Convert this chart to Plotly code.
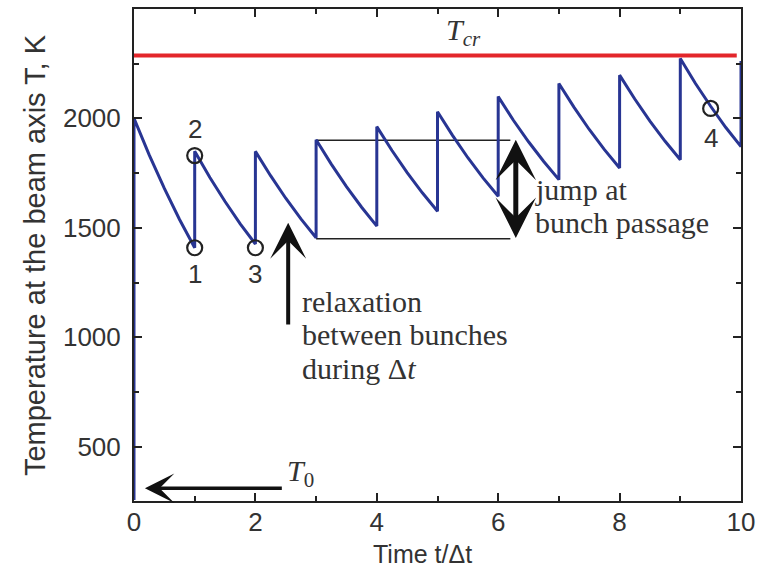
import plotly.graph_objects as go

# ---------------- data ----------------
bunch_times = [0, 1, 2, 3, 4, 5, 6, 7, 8, 9]
T_start = 258                      # temperature before first bunch (bottom of axis)
peaks = [2000, 1850, 1849, 1902, 1962, 2030, 2099, 2159, 2197, 2273]
q1_vals = [1833, 1730, 1738, 1791, 1853, 1921, 1991, 2050, 2088, 2159]
mid_vals = [1680, 1620, 1635, 1688, 1752, 1820, 1893, 1949, 1987, 2055]
q3_vals = [1538, 1518, 1541, 1594, 1660, 1728, 1803, 1857, 1895, 1958]
ends = [1409, 1426, 1455, 1508, 1576, 1644, 1720, 1773, 1811, 1871]
final_jump = 2262

T_cr = 2287
T_0 = 311

circle_t = [1, 1, 2, 9.5]
circle_T = [1409, 1830, 1409, 2045]
circle_labels = ["1", "2", "3", "4"]
label_T = [1290, 1949, 1290, 1912]

bracket_t = [3, 6.2]
bracket_upper = 1900
bracket_lower = 1450

xtick_vals = [0, 2, 4, 6, 8, 10]
ytick_vals = [500, 1000, 1500, 2000]

# ---------------- build curve from the arrays ----------------
xs = [bunch_times[0]]
ys = [T_start]
for i, t0 in enumerate(bunch_times):
    xs += [t0, t0 + 0.25, t0 + 0.5, t0 + 0.75, t0 + 1]
    ys += [peaks[i], q1_vals[i], mid_vals[i], q3_vals[i], ends[i]]
xs.append(bunch_times[-1] + 1)
ys.append(final_jump)

BLUE = "#283593"
RED = "#e3262b"
INK = "#222222"
TXT = "#333333"
SANS = "Liberation Sans, Arial, sans-serif"
SERIF = "Liberation Serif, Times New Roman, serif"

fig = go.Figure()

fig.add_trace(go.Scatter(x=[0, 9.93], y=[T_cr, T_cr], mode="lines",
                         line=dict(color=RED, width=4), showlegend=False,
                         cliponaxis=False))
fig.add_trace(go.Scatter(x=bracket_t, y=[bracket_upper] * 2, mode="lines",
                         line=dict(color=INK, width=1.4), showlegend=False))
fig.add_trace(go.Scatter(x=bracket_t, y=[bracket_lower] * 2, mode="lines",
                         line=dict(color=INK, width=1.4), showlegend=False))
fig.add_trace(go.Scatter(x=xs, y=ys, mode="lines",
                         line=dict(color=BLUE, width=3), showlegend=False,
                         cliponaxis=False))
fig.add_trace(go.Scatter(x=circle_t, y=circle_T, mode="markers",
                         marker=dict(symbol="circle-open", size=15,
                                     line=dict(color=INK, width=2.2), color=INK),
                         showlegend=False))

ann = []
for t, T, lab in zip(circle_t, label_T, circle_labels):
    ann.append(dict(x=t, y=T, text=lab, showarrow=False,
                    font=dict(family=SANS, size=26, color=TXT)))

# arrows
ann.append(dict(x=2.54, y=1523, ax=2.54, ay=1052, xref="x", yref="y",
                axref="x", ayref="y", text="", showarrow=True,
                arrowhead=3, arrowsize=1.5, arrowwidth=4, arrowcolor="#111"))
ann.append(dict(x=0.18, y=T_0, ax=2.46, ay=T_0, xref="x", yref="y",
                axref="x", ayref="y", text="", showarrow=True,
                arrowhead=3, arrowsize=1.4, arrowwidth=3.5, arrowcolor="#111"))
ann.append(dict(x=6.29, y=1902, ax=6.29, ay=1447, xref="x", yref="y",
                axref="x", ayref="y", text="", showarrow=True,
                arrowside="end+start", arrowhead=3, startarrowhead=3,
                arrowsize=1.35, startarrowsize=1.35, arrowwidth=5,
                arrowcolor="#111"))

serif_font = dict(family=SERIF, size=30, color=TXT)
for txt, T in [("relaxation", 1162), ("between bunches", 1012),
               ("during Δ<i>t</i>", 858)]:
    ann.append(dict(x=2.74, y=T, text=txt, showarrow=False, xanchor="left",
                    yanchor="middle", font=serif_font))
for txt, T in [("jump at", 1676), ("bunch passage", 1526)]:
    ann.append(dict(x=6.58, y=T, text=txt, showarrow=False, xanchor="left",
                    yanchor="middle", font=serif_font))

ann.append(dict(x=5.10, y=2395, text="<i>T</i><sub><i>cr</i></sub>",
                showarrow=False, xanchor="left", yanchor="middle",
                font=dict(family=SERIF, size=30, color=TXT)))
ann.append(dict(x=2.49, y=380, text="<i>T</i><sub>0</sub>",
                showarrow=False, xanchor="left", yanchor="middle",
                font=dict(family=SERIF, size=30, color=TXT)))

# axis titles
ann.append(dict(xref="paper", yref="paper", x=-0.163, y=0.5,
                text="Temperature at the beam axis T, K", textangle=-90,
                showarrow=False, xanchor="center", yanchor="middle",
                font=dict(family=SANS, size=29, color=TXT)))
ann.append(dict(xref="paper", yref="paper", x=0.475, y=-0.1073,
                text="Time t/Δt", showarrow=False, xanchor="center",
                yanchor="middle", font=dict(family=SANS, size=25, color=TXT)))

axis_common = dict(showline=True, linecolor=INK, linewidth=2, mirror="ticks",
                   ticks="inside", ticklen=8, tickwidth=2, tickcolor=INK,
                   showgrid=False, zeroline=False,
                   tickfont=dict(family=SANS, size=26, color=TXT))

fig.update_layout(
    width=765, height=568,
    margin=dict(l=134, r=24, t=7, b=67),
    paper_bgcolor="white", plot_bgcolor="white",
    annotations=ann,
    xaxis=dict(range=[0, 10], tickvals=xtick_vals,
               minor=dict(ticks="inside", dtick=1, ticklen=5, tickwidth=2,
                          tickcolor=INK, showgrid=False),
               ticklabelstandoff=-3,
               **axis_common),
    yaxis=dict(range=[253, 2499], tickvals=ytick_vals,
               minor=dict(ticks="inside", dtick=250, tick0=0, ticklen=5,
                          tickwidth=2, tickcolor=INK, showgrid=False),
               ticklabelstandoff=6,
               **axis_common),
)

fig.write_html("out.html", config={"displayModeBar": False},
               post_script="document.body.style.margin='0px';")
